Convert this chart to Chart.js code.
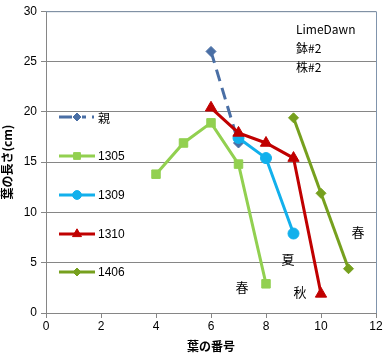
<!DOCTYPE html>
<html>
<head>
<meta charset="utf-8">
<script src="https://cdn.jsdelivr.net/npm/chart.js@4/dist/chart.umd.min.js"></script>
<style>
  html, body { margin: 0; padding: 0; background: #fff; }
  #wrap { width: 392px; height: 354px; }
</style>
</head>
<body>
<div id="wrap"><canvas id="c" width="392" height="354"></canvas></div>
<script>
// 系列名と値 (葉の番号, 葉の長さ)
var seriesNames = ['親', '1305', '1309', '1310', '1406'];
var oyaX = [6, 7];
var oyaY = [26.0, 16.9];
var s1305X = [4, 5, 6, 7, 8];
var s1305Y = [13.8, 16.9, 18.9, 14.8, 2.9];
var s1309X = [7, 8, 9];
var s1309Y = [17.4, 15.4, 7.9];
var s1310X = [6, 7, 8, 9, 10];
var s1310Y = [20.4, 17.9, 16.9, 15.4, 1.9];
var s1406X = [9, 10, 11];
var s1406Y = [19.4, 11.9, 4.4];
var xTicks = [0, 2, 4, 6, 8, 10, 12];
var yTicks = [0, 5, 10, 15, 20, 25, 30];

var JP = '"Noto Sans CJK JP", sans-serif';
var NUM = '"Liberation Sans", Arial, sans-serif';

function pts(xs, ys) {
	return xs.map(function (x, i) { return { x: x, y: ys[i] }; });
}

var styles = [
	{ color: '#4a6fa5', shape: 'rectRot', r: 5, dash: [12, 7] },
	{ color: '#92d050', shape: 'rect', r: 6, dash: [] },
	{ color: '#12b0ec', shape: 'circle', r: 5.5, dash: [] },
	{ color: '#c00000', shape: 'triangle', r: 6.5, dash: [] },
	{ color: '#76a01e', shape: 'rectRot', r: 5, dash: [] }
];
var allData = [pts(oyaX, oyaY), pts(s1305X, s1305Y), pts(s1309X, s1309Y), pts(s1310X, s1310Y), pts(s1406X, s1406Y)];

var datasets = seriesNames.map(function (name, i) {
	var st = styles[i];
	return {
		label: name,
		data: allData[i],
		showLine: true,
		borderColor: st.color,
		backgroundColor: st.color,
		borderWidth: 3,
		borderDash: st.dash,
		pointStyle: st.shape,
		pointRadius: st.r,
		pointBorderWidth: 1,
		order: i === 0 ? 10 : 5 - i
	};
});

// 凡例(グラフ内) と 注記
var legendPlugin = {
	id: 'inlegend',
	afterDatasetsDraw: function (chart) {
		var ctx = chart.ctx;
		var a = chart.chartArea;
		ctx.save();
		// 外枠
		ctx.strokeStyle = '#8094ac';
		ctx.lineWidth = 1;
		ctx.beginPath();
		ctx.moveTo(a.left, a.top + 0.5);
		ctx.lineTo(a.right + 0.5, a.top + 0.5);
		ctx.lineTo(a.right + 0.5, a.bottom);
		ctx.stroke();

		var ys = [117, 156, 195, 234, 272];
		seriesNames.forEach(function (name, i) {
			var st = styles[i];
			var y = ys[i];
			ctx.strokeStyle = st.color;
			ctx.lineWidth = 3;
			if (i === 0) {
				ctx.beginPath();
				ctx.moveTo(59, y);
				ctx.lineTo(72, y);
				ctx.moveTo(82, y);
				ctx.lineTo(86, y);
				ctx.moveTo(92, y);
				ctx.lineTo(94, y);
				ctx.stroke();
			} else {
				ctx.beginPath();
				ctx.moveTo(59, y);
				ctx.lineTo(95, y);
				ctx.stroke();
			}
			ctx.lineWidth = 1;
			ctx.fillStyle = st.color;
			Chart.helpers.drawPoint(ctx, { pointStyle: st.shape, radius: st.r * 0.8, borderWidth: 1 }, 77, y);
			ctx.fillStyle = '#000';
			ctx.font = i === 0 ? '12px ' + JP : '12px ' + NUM;
			ctx.textBaseline = 'middle';
			ctx.textAlign = 'left';
			ctx.fillText(name, 98, y + 1);
		});

		ctx.fillStyle = '#000';
		ctx.font = '12px ' + JP;
		ctx.textBaseline = 'middle';
		ctx.textAlign = 'left';
		ctx.fillText('LimeDawn', 296, 29);
		ctx.fillText('鉢#2', 296, 48);
		ctx.fillText('株#2', 296, 67);
		ctx.font = '13px ' + JP;
		ctx.textAlign = 'center';
		ctx.fillText('春', 358, 232);
		ctx.fillText('夏', 288, 259);
		ctx.fillText('春', 242, 287);
		ctx.fillText('秋', 300, 292);
		ctx.restore();
	}
};

new Chart(document.getElementById('c'), {
	type: 'scatter',
	data: { datasets: datasets },
	plugins: [legendPlugin],
	options: {
		responsive: false,
		animation: false,
		layout: { padding: { top: 11, right: 16, left: 0, bottom: 0 } },
		plugins: { legend: { display: false }, tooltip: { enabled: false } },
		scales: {
			x: {
				type: 'linear',
				min: 0,
				max: 12,
				afterBuildTicks: function (s) { s.ticks = xTicks.map(function (v) { return { value: v }; }); },
				afterFit: function (s) { s.height = 41; },
				grid: { display: true, drawOnChartArea: false, drawTicks: true, tickLength: 5, color: '#868686' },
				border: { color: '#868686' },
				ticks: { color: '#000', font: { family: NUM, size: 12 }, padding: 1, maxRotation: 0 },
				title: { display: true, text: '葉の番号', color: '#000', font: { family: JP, size: 12, weight: 'bold' }, padding: { top: 0, bottom: 0 } }
			},
			y: {
				min: 0,
				max: 30,
				afterBuildTicks: function (s) { s.ticks = yTicks.map(function (v) { return { value: v }; }); },
				afterFit: function (s) { s.width = 46; },
				grid: { color: '#868686', drawTicks: true, tickLength: 5 },
				border: { color: '#868686' },
				ticks: { color: '#000', font: { family: NUM, size: 12 }, padding: 4 },
				title: { display: true, text: '葉の長さ(cm)', color: '#000', font: { family: JP, size: 12, weight: 'bold' }, padding: { top: 0, bottom: 0 } }
			}
		}
	}
});
</script>
</body>
</html>
